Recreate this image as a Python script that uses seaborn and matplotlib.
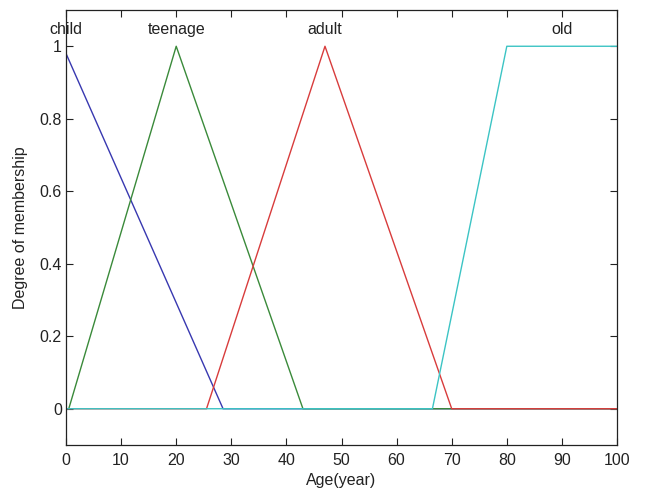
import matplotlib
matplotlib.use("Agg")
import matplotlib.pyplot as plt
import seaborn as sns
import pandas as pd

# Membership function breakpoints (Age in years, degree of membership)
child_x = [0, 28.5, 100]
child_y = [0.98, 0, 0]
teen_x = [0, 0.5, 20, 43, 100]
teen_y = [0, 0, 1, 0, 0]
adult_x = [0, 25.5, 47, 70, 100]
adult_y = [0, 0, 1, 0, 0]
old_x = [0, 66.5, 80, 100]
old_y = [0, 0, 1, 1]

names = ["child", "teenage", "adult", "old"]
label_x = [0, 20, 47, 90]
colors = ["#3838b0", "#3a8a3a", "#d83c3c", "#3cc4c4"]

xticks = [0, 10, 20, 30, 40, 50, 60, 70, 80, 90, 100]
yticks = [0, 0.2, 0.4, 0.6, 0.8, 1]

sns.set_style("ticks")
plt.rcParams["font.family"] = ["Liberation Sans", "DejaVu Sans"]

FS = 11.5
fig = plt.figure(figsize=(6.51, 4.93), dpi=100)
ax = fig.add_axes([0.1014, 0.0974, 0.8464, 0.8823])

series = [(child_x, child_y), (teen_x, teen_y), (adult_x, adult_y), (old_x, old_y)]
for (xs, ys), name, c in zip(series, names, colors):
    df = pd.DataFrame({"Age": xs, "mu": ys})
    sns.lineplot(data=df, x="Age", y="mu", ax=ax, color=c, linewidth=1.0,
                 estimator=None, sort=False)

for name, lx in zip(names, label_x):
    ax.text(lx, 1.046, name, ha="center", va="center", fontsize=FS, color="#222222")

ax.set_xlim(0, 100)
ax.set_ylim(-0.1, 1.1)
ax.set_xticks(xticks)
ax.set_xticklabels([str(t) for t in xticks])
ax.set_yticks(yticks)
ax.set_yticklabels(["0", "0.2", "0.4", "0.6", "0.8", "1"])
ax.tick_params(direction="in", length=5, width=0.8, top=True, right=True,
               labelsize=FS, colors="#222222")
ax.tick_params(axis="x", pad=6)
ax.tick_params(axis="y", pad=3)
for s in ax.spines.values():
    s.set_visible(True)
    s.set_color("#222222")
    s.set_linewidth(0.9)
ax.set_xlabel("Age(year)", fontsize=FS, color="#222222", labelpad=3.5)
ax.set_ylabel("Degree of membership", fontsize=FS, color="#222222", labelpad=8.5)

fig.savefig("out.png", dpi=100)
